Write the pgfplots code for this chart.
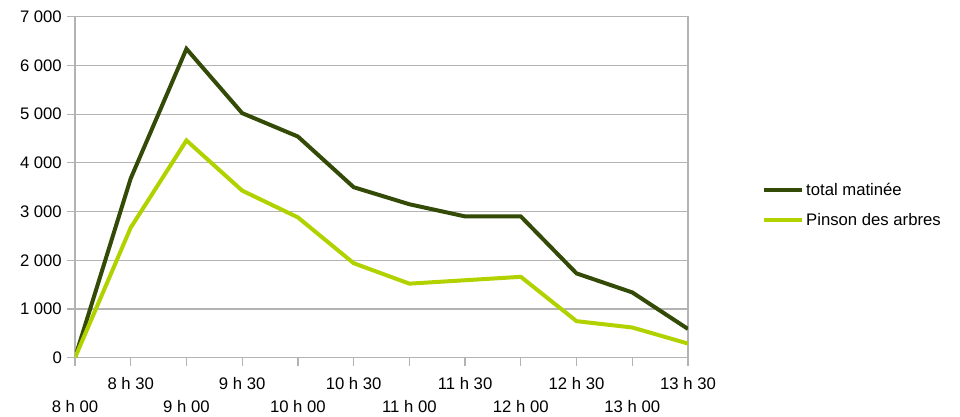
\documentclass[border=0pt]{standalone}
\usepackage{fontspec}
\setmainfont{Liberation Sans}
\usepackage{pgfplots}
\pgfplotsset{compat=1.18}

\definecolor{darkolive}{RGB}{52,74,7}
\definecolor{lime}{RGB}{178,210,0}
\definecolor{gridgray}{RGB}{179,179,179}

\begin{document}
\begin{tikzpicture}
\path[use as bounding box] (0,0) rectangle (960bp,417bp);
\begin{axis}[
  at={(75bp,59.3bp)}, anchor=south west,
  width=613bp, height=341bp, scale only axis,
  xmin=0, xmax=11, ymin=0, ymax=7000,
  axis line style={gridgray, line width=1.2bp},
  tick style={gridgray, line width=1.2bp},
  tick align=outside, tick pos=left,
  major tick length=8bp,
  ymajorgrids=true, xmajorgrids=false,
  grid style={gridgray, line width=1.2bp},
  ytick={0,1000,2000,3000,4000,5000,6000,7000},
  yticklabels={0,1 000,2 000,3 000,4 000,5 000,6 000,7 000},
  xtick={1,3,5,7,9,11},
  xticklabels={8 h 30,9 h 30,10 h 30,11 h 30,12 h 30,13 h 30},
  extra x ticks={0,2,4,6,8,10},
  extra x tick labels={8 h 00,9 h 00,10 h 00,11 h 00,12 h 00,13 h 00},
  extra x tick style={xticklabel style={yshift=-23bp}},
  ticklabel style={font=\fontsize{16.7bp}{19bp}\selectfont, inner sep=0pt},
  xticklabel style={anchor=north, yshift=-11bp},
  yticklabel style={anchor=east, xshift=-5bp},
  legend style={at={(rel axis cs:1.1207,0.448)}, anchor=west, draw=none, fill=none,
    inner sep=0pt, font=\fontsize{16.7bp}{19bp}\selectfont, row sep=12bp,
    nodes={inner sep=2bp}},
  legend cell align=left,
  legend image code/.code={\draw[#1] (0bp,0bp) -- (38bp,0bp);},
]
\addplot[darkolive, line width=4bp, line join=miter] coordinates {
  (0,0) (1,3680) (2,6340) (3,5020) (4,4540) (5,3500) (6,3150) (7,2900) (8,2900) (9,1730) (10,1340) (11,590)
};
\addplot[lime, line width=4bp, line join=miter] coordinates {
  (0,0) (1,2670) (2,4460) (3,3430) (4,2880) (5,1940) (6,1520) (7,1590) (8,1660) (9,750) (10,620) (11,290)
};
\legend{total matinée, Pinson des arbres}
\end{axis}
\end{tikzpicture}
\end{document}
